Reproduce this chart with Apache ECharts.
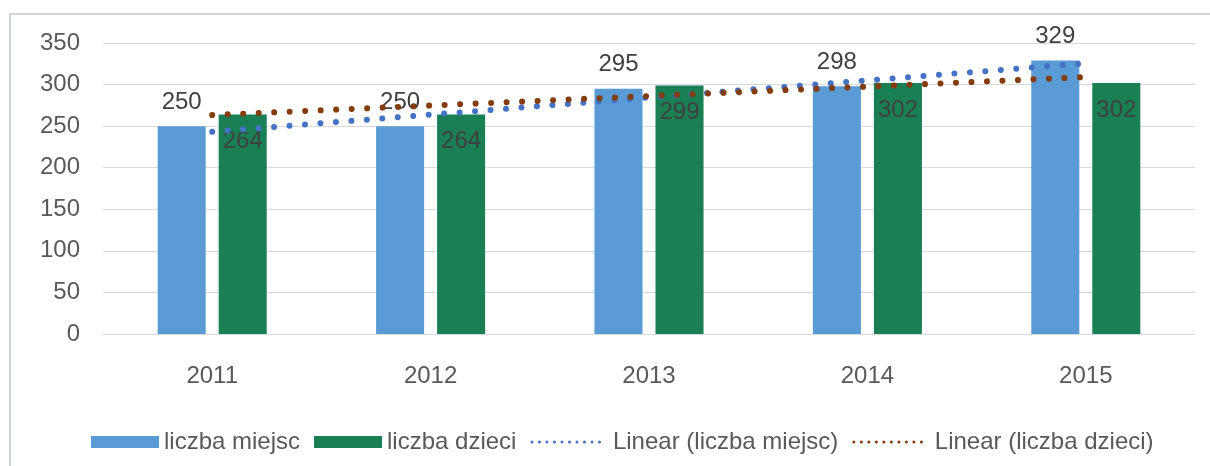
<!DOCTYPE html>
<html>
<head>
<meta charset="utf-8">
<script src="https://cdn.jsdelivr.net/npm/echarts@6/dist/echarts.min.js"></script>
<style>
  html, body { margin: 0; padding: 0; background: #fff; }
  #frame { position: absolute; left: 9px; top: 13px; width: 1300px; height: 500px;
           border-top: 2px solid #d6d6d6; border-left: 2px solid #cdd3d0; }
  #main { position: absolute; left: 0; top: 0; width: 1210px; height: 466px; }
</style>
</head>
<body>
<div id="frame"></div>
<div id="main"></div>
<script>
// dane wykresu
var years = ['2011', '2012', '2013', '2014', '2015']
var liczbaMiejsc = [250, 250, 295, 298, 329]
var liczbaDzieci = [264, 264, 299, 302, 302]
// linie trendu
var trendMiejsc = [243.2, 263.8, 284.4, 305.0, 325.6]
var trendDzieci = [263.4, 274.8, 286.2, 297.6, 309.0]
var yTicks = [0, 50, 100, 150, 200, 250, 300, 350]

var font = 'Liberation Sans, Arial, sans-serif'
var textColor = '#595959'

var myChart = echarts.init(document.getElementById('main'))

// ikona legendy dla linii trendu: sama kropkowana linia, bez symbolu
var trendLegend = { width: 3, type: [0.01, 7.5], cap: 'round' }
var trendText = { fontSize: 24, color: textColor, fontFamily: font, padding: [0, 0, 0, 8] }

var option = {
  animation: false,
  textStyle: { fontFamily: font },
  grid: { left: 103, right: 15, top: 43, bottom: 132 },
  legend: {
    left: 86,
    top: 425,
    itemWidth: 68,
    itemHeight: 12,
    itemGap: 14,
    textStyle: { fontSize: 24, color: textColor, fontFamily: font },
    data: [
      { name: 'liczba miejsc', icon: 'rect' },
      { name: 'liczba dzieci', icon: 'rect' },
      { name: 'Linear (liczba miejsc)', lineStyle: trendLegend, itemStyle: { opacity: 0 }, textStyle: trendText },
      { name: 'Linear (liczba dzieci)', lineStyle: trendLegend, itemStyle: { opacity: 0 }, textStyle: trendText }
    ]
  },
  xAxis: {
    type: 'category',
    data: years,
    axisLine: { lineStyle: { color: '#d9d9d9', width: 1 } },
    axisTick: { show: false },
    axisLabel: { fontSize: 24, color: textColor, margin: 30 }
  },
  yAxis: {
    type: 'value',
    min: yTicks[0],
    max: yTicks[yTicks.length - 1],
    interval: 50,
    axisLine: { show: false },
    axisTick: { show: false },
    splitLine: { lineStyle: { color: '#d9d9d9', width: 1 } },
    axisLabel: { fontSize: 24, color: textColor, margin: 23 }
  },
  series: [
    {
      name: 'liczba miejsc',
      type: 'bar',
      data: liczbaMiejsc,
      barWidth: '22%',
      barGap: '27%',
      itemStyle: { color: '#5b9bd5' },
      label: { show: true, position: 'top', distance: 12, fontSize: 24, color: '#404040' }
    },
    {
      name: 'liczba dzieci',
      type: 'bar',
      data: liczbaDzieci,
      barWidth: '22%',
      itemStyle: { color: '#1a7f55' },
      label: { show: true, position: 'insideTop', distance: 15, fontSize: 24, color: '#404040' }
    },
    {
      name: 'Linear (liczba miejsc)',
      type: 'line',
      data: trendMiejsc,
      showSymbol: false,
      symbol: 'none',
      z: 5,
      itemStyle: { color: '#4472c4' },
      lineStyle: { color: '#4472c4', width: 6, type: [0.01, 15.5], cap: 'round' }
    },
    {
      name: 'Linear (liczba dzieci)',
      type: 'line',
      data: trendDzieci,
      showSymbol: false,
      symbol: 'none',
      z: 5,
      itemStyle: { color: '#843c0c' },
      lineStyle: { color: '#843c0c', width: 6, type: [0.01, 15.5], cap: 'round' }
    }
  ]
}

myChart.setOption(option)
</script>
</body>
</html>
